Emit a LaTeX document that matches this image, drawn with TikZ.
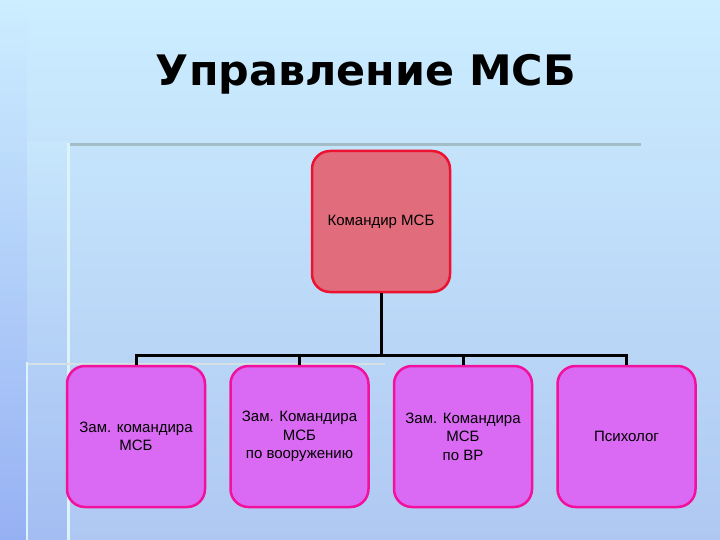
\documentclass[tikz,border=0pt]{standalone}
\usepackage{fontspec}
\setmainfont{Liberation Sans}
\newfontfamily\titlefont{DejaVu Sans}
\usetikzlibrary{positioning}
\definecolor{bgtop}{HTML}{CCEEFF}
\definecolor{bgbottom}{HTML}{AFC8F2}
\definecolor{stripblue}{HTML}{8AA5F5}
\definecolor{bossfill}{HTML}{E06C7C}
\definecolor{bossdraw}{HTML}{EC1230}
\definecolor{deputyfill}{HTML}{DA6AF4}
\definecolor{deputydraw}{HTML}{F2109C}
\definecolor{railgrey}{HTML}{A3BCC6}
\definecolor{railwhite}{HTML}{DDF3FA}

\begin{document}
\begin{tikzpicture}[x=1pt, y=-1pt, node distance=23pt,
  boss/.style={minimum width=138pt, minimum height=141pt, draw=bossdraw, fill=bossfill, line width=2.5pt, rounded corners=18pt, align=center, font=\fontsize{15}{18.5}\selectfont, inner sep=0pt},
  deputy/.style={minimum width=138pt, minimum height=141pt, draw=deputydraw, fill=deputyfill, line width=2.5pt, rounded corners=18pt, align=center, font=\fontsize{15}{18.5}\selectfont, inner sep=0pt},
  link/.style={line width=3pt, draw=black}]
	% background
	\useasboundingbox (0,0) rectangle (720,540);
	\shade[top color=bgtop, bottom color=bgbottom] (0,0) rectangle (720,540);
	\shade[top color=bgtop, bottom color=stripblue, opacity=0.65] (0,0) rectangle (27,540);
	\shade[top color=bgtop, bottom color=stripblue, opacity=0.3] (27,143) rectangle (68,540);
	\draw[line width=3pt, draw=railgrey] (68,145) -- (641,145);
	\draw[line width=3pt, draw=railwhite] (68,143) -- (68,540);
	\draw[line width=2pt, draw=railgrey!45] (27,364) -- (385,364);
	\draw[line width=2.5pt, draw=railwhite] (27,362) -- (27,540);

	\node[font=\titlefont\bfseries\fontsize{42}{42}\selectfont] (title) at (366,74) {\scalebox{1.02}[1]{Управление МСБ}};

	\node[boss] (cmd) at (381,221.5) {Командир МСБ};

	\node[deputy] (dep1) at (136,436.5) {Зам. командира\\МСБ};
	\node[deputy, right=of dep1] (dep2) {Зам. Командира\\МСБ\\по вооружению};
	\node[deputy, right=of dep2] (dep3) {Зам. Командира\\МСБ\\по ВР};
	\node[deputy, right=of dep3] (psy) {Психолог};

	\coordinate (hub) at (381,355);
	\draw[link] (cmd.south) -- (hub);
	\draw[link] (dep1.north) |- (hub) -| (psy.north);
	\draw[link] (dep2.north) -- (dep2.north |- hub);
	\draw[link] (dep3.north) -- (dep3.north |- hub);
\end{tikzpicture}
\end{document}
